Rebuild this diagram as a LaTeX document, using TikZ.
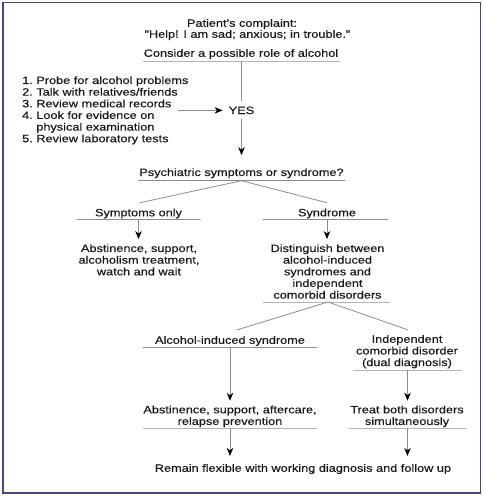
\documentclass[tikz,border=0pt]{standalone}
\usepackage{fontspec}
\setmainfont{Liberation Sans}[FakeStretch=1.2,FakeBold=0.4]
\usetikzlibrary{arrows.meta}
\definecolor{framecol}{HTML}{4B4682}
\definecolor{linecol}{HTML}{8C8C8C}
\begin{document}
\begin{tikzpicture}[x=1pt,y=-1pt,
  every node/.style={inner sep=0pt,anchor=north,align=center,font=\fontsize{10.6}{11.65}\selectfont,text=black!90},
  rulebar/.style={draw=linecol,line width=0.8pt,minimum height=0pt,anchor=center},
  conn/.style={draw=linecol,line width=0.8pt},
  arr/.style={conn,-{Stealth[length=8pt,width=6.5pt,inset=2.5pt,color=black]}}]
\useasboundingbox (0,0) rectangle (484,496);
\draw [framecol,line width=1.5pt] (3,2.5) rectangle (480.5,493);
\node (pc) at (242,18.9) {Patient's complaint:};
\node (help) at (247.5,29.9) {"Help! I am sad; anxious; in trouble."};
\node (cons) at (241,48.9) {Consider a possible role of alcohol};
\node [rulebar,minimum width=197pt] (r1) at (241.5,61) {};
\node [anchor=north west,align=left] (list) at (22,76.1) {1.~Probe for alcohol problems\\2.~Talk with relatives/friends\\3.~Review medical records\\4.~Look for evidence on\\\phantom{4.~}physical examination\\5.~Review laboratory tests};
\node [inner xsep=6pt,inner ysep=5pt] (yes) at (241.5,101.4) {YES};
\coordinate (lst) at (178,110.5);
\draw [arr] (lst) -- (yes.west);
\draw [conn] (r1.center) -- (yes.north);
\node (psy) at (241.5,168.1) {Psychiatric symptoms or syndrome?};
\draw [arr,shorten >=13pt] (yes.south) -- (psy.north);
\node [rulebar,minimum width=207pt] (r2) at (241.5,180.7) {};
\node (symp) at (138.5,208.4) {Symptoms only};
\node (synd) at (327,208.4) {Syndrome};
\draw [conn] (r2.center) -- ([xshift=1.5pt,yshift=5.7pt]symp.north);
\draw [conn] (r2.center) -- ([yshift=5.7pt]synd.north);
\node [rulebar,minimum width=124pt] (r3) at (138.5,219.5) {};
\node [rulebar,minimum width=125pt] (r4) at (325.5,219.5) {};
\node (abst) at (139,244.1) {Abstinence, support,\\alcoholism treatment,\\watch and wait};
\node (dist) at (327.5,244.1) {Distinguish between\\alcohol-induced\\syndromes and\\independent\\comorbid disorders};
\draw [arr,shorten >=5pt] (r3.center) -- (r3.center |- abst.north);
\draw [arr,shorten >=5pt] (synd.south |- r4.center) -- (synd.south |- dist.north);
\node [rulebar,minimum width=127pt] (r5) at (326.5,302) {};
\node (alc) at (230,335.9) {Alcohol-induced syndrome};
\node (ind) at (407,334.9) {Independent\\comorbid disorder\\(dual diagnosis)};
\draw [conn] ([xshift=1.5pt]r5.center) -- ([xshift=7pt,yshift=6pt]alc.north);
\draw [conn] ([xshift=1.5pt]r5.center) -- ([xshift=1pt,yshift=5pt]ind.north);
\node [rulebar,minimum width=174pt] (r6) at (230,347.5) {};
\node [rulebar,minimum width=109pt] (r7) at (407.5,370) {};
\node (abst2) at (230,405.4) {Abstinence, support, aftercare,\\relapse prevention};
\node (treat) at (407,405.4) {Treat both disorders\\simultaneously};
\draw [arr,shorten >=4.7pt] (r6.center) -- (abst2.north);
\draw [arr,shorten >=4.7pt] (r7.center) -- (r7.center |- treat.north);
\node [rulebar,minimum width=174pt] (r8) at (230,428) {};
\node [rulebar,minimum width=118pt] (r9) at (407.5,428) {};
\node (rem) at (303,463.9) {Remain flexible with working diagnosis and follow up};
\draw [arr,shorten >=8pt] (r8.center) -- (r8.center |- rem.north);
\draw [arr,shorten >=8pt] (r9.center) -- (r9.center |- rem.north);
\end{tikzpicture}
\end{document}
